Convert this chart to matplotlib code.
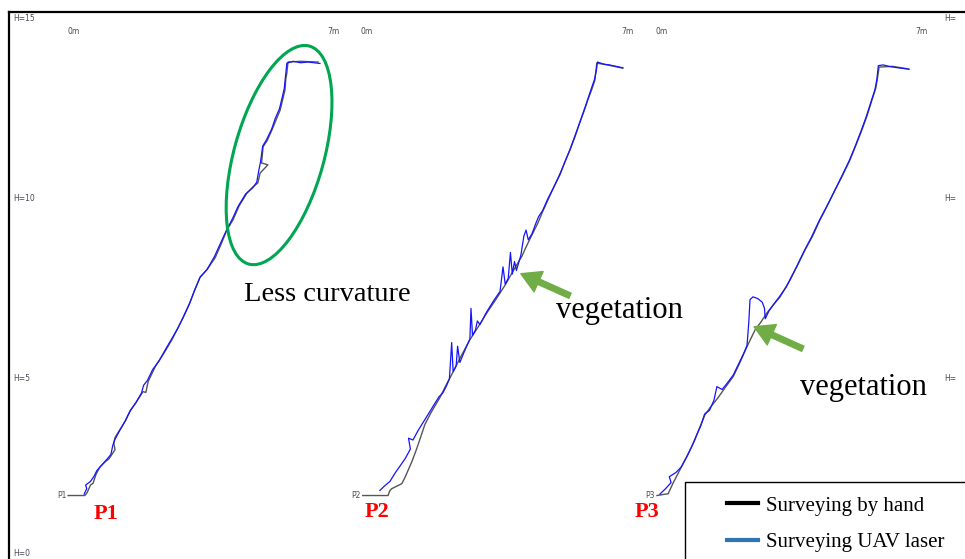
import matplotlib.pyplot as plt
from matplotlib.patches import Ellipse, Rectangle
from matplotlib.lines import Line2D

# horizontal offset of each profile panel (m), plus labels
panel_offsets = [0.0, 7.90, 15.81]
panel_names = ["P1", "P2", "P3"]
height_ticks = [15, 10, 5, 0]
right_ticks = [15, 10, 5]
dist_ticks = [0, 7]

# profile P1: (distance m, height m)
p1_hand = [(-0.05, 1.76), (0.40, 1.76), (0.46, 1.84), (0.55, 2.05), (0.62, 2.10), (0.70, 2.35),
           (0.81, 2.56), (0.95, 2.70), (1.05, 2.78), (1.21, 3.03), (1.18, 3.20), (1.21, 3.37),
           (1.35, 3.60), (1.50, 3.85), (1.61, 4.09), (1.75, 4.30), (1.96, 4.64), (2.04, 4.62),
           (2.10, 4.92), (2.30, 5.35), (2.55, 5.75), (2.75, 6.10), (3.04, 6.69), (3.20, 7.05),
           (3.35, 7.45), (3.49, 7.80), (3.70, 8.05), (3.90, 8.35), (4.05, 8.70), (4.22, 9.13),
           (4.38, 9.40), (4.55, 9.80), (4.76, 10.15), (4.90, 10.30), (5.05, 10.43), (5.11, 10.70),
           (5.32, 10.93), (5.15, 10.98), (5.19, 11.43), (5.30, 11.60), (5.43, 11.90), (5.55, 12.20),
           (5.65, 12.45), (5.72, 12.75), (5.78, 13.01), (5.80, 13.30), (5.83, 13.48), (5.86, 13.78),
           (6.20, 13.80), (6.67, 13.78)]
p1_uav = [(0.38, 1.80), (0.45, 1.95), (0.42, 2.05), (0.55, 2.15), (0.65, 2.30), (0.72, 2.45),
          (0.85, 2.60), (0.98, 2.75), (1.10, 2.90), (1.15, 3.15), (1.20, 3.30), (1.33, 3.55),
          (1.48, 3.82), (1.62, 4.12), (1.78, 4.35), (1.92, 4.60), (1.98, 4.82), (2.08, 4.95),
          (2.22, 5.25), (2.40, 5.50), (2.56, 5.80), (2.72, 6.08), (2.90, 6.40), (3.05, 6.72),
          (3.22, 7.10), (3.36, 7.48), (3.50, 7.82), (3.68, 8.02), (3.88, 8.38), (4.03, 8.72),
          (4.20, 9.10), (4.36, 9.42), (4.52, 9.78), (4.72, 10.12), (4.92, 10.30), (5.02, 10.45),
          (5.08, 10.80), (5.12, 11.00), (5.18, 11.45), (5.28, 11.62), (5.42, 11.92), (5.52, 12.22),
          (5.63, 12.48), (5.70, 12.78), (5.76, 13.05), (5.79, 13.35), (5.83, 13.75), (6.00, 13.80),
          (6.20, 13.76), (6.40, 13.78), (6.72, 13.74)]

# profile P2
p2_hand = [(-0.03, 1.76), (0.65, 1.76), (0.70, 1.90), (0.75, 1.95), (1.02, 2.09), (1.10, 2.25),
           (1.29, 2.70), (1.40, 3.00), (1.50, 3.30), (1.64, 3.73), (1.80, 4.05), (2.04, 4.47),
           (2.20, 4.80), (2.39, 5.17), (2.60, 5.60), (2.85, 6.08), (3.05, 6.40), (3.31, 6.83),
           (3.55, 7.20), (3.80, 7.60), (4.02, 8.00), (4.25, 8.40), (4.36, 8.65), (4.50, 8.95),
           (4.68, 9.32), (4.80, 9.62), (4.95, 9.96), (5.10, 10.30), (5.27, 10.65), (5.40, 11.00),
           (5.54, 11.34), (5.68, 11.72), (5.81, 12.12), (5.92, 12.42), (6.02, 12.73), (6.12, 13.00),
           (6.21, 13.28), (6.24, 13.55), (6.26, 13.75), (6.55, 13.70), (6.96, 13.61)]
p2_uav = [(0.43, 1.90), (0.55, 2.02), (0.70, 2.15), (0.85, 2.40), (1.00, 2.62), (1.12, 2.80),
          (1.25, 3.05), (1.20, 3.35), (1.32, 3.30), (1.45, 3.55), (1.60, 3.80), (1.75, 4.05),
          (1.90, 4.30), (2.02, 4.50), (2.12, 4.60), (2.22, 4.80), (2.30, 5.00), (2.36, 6.00),
          (2.40, 5.20), (2.48, 5.35), (2.52, 5.90), (2.58, 5.45), (2.70, 5.75), (2.85, 6.10),
          (2.88, 6.95), (2.92, 6.20), (3.00, 6.35), (3.05, 6.60), (3.12, 6.50), (3.30, 6.85),
          (3.50, 7.18), (3.66, 7.42), (3.74, 8.10), (3.80, 7.62), (3.88, 7.78), (3.94, 8.50),
          (3.99, 7.90), (4.05, 8.25), (4.10, 8.00), (4.22, 8.42), (4.30, 8.95), (4.36, 9.12),
          (4.42, 8.85), (4.52, 9.02), (4.62, 9.30), (4.70, 9.50), (4.80, 9.65), (4.95, 10.00),
          (5.10, 10.30), (5.28, 10.70), (5.40, 11.00), (5.55, 11.38), (5.68, 11.75), (5.82, 12.15),
          (5.92, 12.45), (6.02, 12.75), (6.10, 13.00), (6.20, 13.30), (6.25, 13.55), (6.28, 13.78),
          (6.45, 13.72), (6.60, 13.70), (6.96, 13.62)]

# profile P3
p3_hand = [(-0.03, 1.76), (0.27, 1.81), (0.40, 2.10), (0.59, 2.48), (0.80, 2.90), (0.99, 3.31),
           (1.10, 3.60), (1.26, 4.00), (1.40, 4.20), (1.61, 4.47), (1.80, 4.75), (2.02, 5.06),
           (2.20, 5.45), (2.39, 5.89), (2.61, 6.36), (2.75, 6.55), (2.93, 6.83), (3.10, 7.05),
           (3.28, 7.27), (3.55, 7.74), (3.75, 8.15), (3.95, 8.57), (4.15, 8.95), (4.35, 9.40),
           (4.55, 9.80), (4.76, 10.24), (4.95, 10.62), (5.16, 11.07), (5.32, 11.48), (5.48, 11.90),
           (5.62, 12.30), (5.75, 12.73), (5.85, 13.05), (5.89, 13.28), (5.94, 13.64), (6.30, 13.66),
           (6.72, 13.59)]
p3_uav = [(0.05, 1.80), (0.20, 1.95), (0.35, 2.12), (0.30, 2.28), (0.48, 2.40), (0.62, 2.55),
          (0.78, 2.85), (0.92, 3.15), (1.02, 3.40), (1.15, 3.70), (1.25, 4.02), (1.38, 4.12),
          (1.50, 4.40), (1.58, 4.78), (1.72, 4.70), (1.86, 4.88), (2.02, 5.10), (2.16, 5.40),
          (2.30, 5.70), (2.39, 5.92), (2.44, 6.60), (2.47, 7.19), (2.55, 7.27), (2.68, 7.22),
          (2.80, 7.12), (2.86, 6.95), (2.88, 6.66), (2.98, 6.88), (3.12, 7.08), (3.28, 7.30),
          (3.45, 7.55), (3.57, 7.80), (3.72, 8.10), (3.93, 8.55), (4.12, 8.92), (4.33, 9.38),
          (4.52, 9.75), (4.74, 10.20), (4.92, 10.58), (5.14, 11.05), (5.30, 11.45), (5.46, 11.88),
          (5.60, 12.28), (5.73, 12.70), (5.83, 13.02), (5.88, 13.30), (5.92, 13.68), (6.05, 13.70),
          (6.25, 13.65), (6.45, 13.62), (6.75, 13.58)]

hand_profiles = [p1_hand, p2_hand, p3_hand]
uav_profiles = [p1_uav, p2_uav, p3_uav]

# annotation positions (m, in panel-local distance)
name_pos = [(0.97, 1.26), (0.35, 1.29), (-0.30, 1.29)]
veg_text = [(6.86, 6.88), (5.51, 4.75)]          # panels 2, 3
veg_arrow_tail = [(5.54, 7.30), (3.89, 5.83)]
veg_arrow_tip = [(4.22, 7.91), (2.58, 6.44)]
veg_panels = [1, 2]

fig = plt.figure(figsize=(9.65, 5.59), dpi=100)
ax = fig.add_axes([0, 0, 1, 1])
ax.set_xlim(-1.882, 24.06)
ax.set_ylim(0.0, 15.5)
ax.set_axis_off()

serif = 'Liberation Serif'
small = dict(fontsize=5.5, color='#4a4a5a')

for i, off in enumerate(panel_offsets):
    hx = [p[0] + off for p in hand_profiles[i]]
    hy = [p[1] for p in hand_profiles[i]]
    ux = [p[0] + off for p in uav_profiles[i]]
    uy = [p[1] for p in uav_profiles[i]]
    ax.plot(hx, hy, color='#555555', lw=1.0, zorder=2)
    ax.plot(ux, uy, color='#1414ff', lw=0.9, zorder=3)
    for t in dist_ticks:
        ax.text(off + t - 0.08, 14.64, f"{t}m", ha='left', va='center', **small)
    ax.text(off - 0.1, 1.76, panel_names[i], ha='right', va='center', **small)
    ax.text(off + name_pos[i][0], name_pos[i][1], panel_names[i], ha='center', va='center',
            color='red', fontsize=16, fontweight='bold', family=serif)

# height labels on the left; the next panel's labels show only "H=" at the right edge
for h in height_ticks:
    ax.text(-1.53, max(h, 0.15), f"H={h}", ha='left', va='center', **small)
for h in right_ticks:
    ax.text(23.50, h, "H=", ha='left', va='center', **small)

# "less curvature" ellipse on P1
ax.add_patch(Ellipse((5.62, 11.20), 2.42, 6.26, angle=-15, fill=False,
                     edgecolor='#00a651', lw=2.2, zorder=4))
ax.text(6.91, 7.33, "Less curvature", ha='center', va='center', fontsize=20.5, family=serif)

for k, pi in enumerate(veg_panels):
    off = panel_offsets[pi]
    ax.text(off + veg_text[k][0], veg_text[k][1], "vegetation", ha='center', va='center',
            fontsize=22, family=serif)
    ax.annotate('', xy=(off + veg_arrow_tip[k][0], veg_arrow_tip[k][1]),
                xytext=(off + veg_arrow_tail[k][0], veg_arrow_tail[k][1]),
                arrowprops=dict(facecolor='#70ad47', edgecolor='#70ad47', width=4,
                                headwidth=16, headlength=14, shrink=0), zorder=5)

# outer frame (left and top edges only)
frame = fig.add_axes([9 / 965, -0.05, 1.1, 1 - 12 / 559 + 0.05])
frame.set_facecolor('none')
frame.set_xticks([])
frame.set_yticks([])
for s in ['right', 'bottom']:
    frame.spines[s].set_visible(False)
for s in ['left', 'top']:
    frame.spines[s].set_linewidth(1.6)

# legend box running off the figure edge
fig.patches.append(Rectangle((685 / 965, -0.05), 0.5, (559 - 482) / 559 + 0.05,
                             transform=fig.transFigure, facecolor='white',
                             edgecolor='black', lw=1.0, zorder=3))
handles = [Line2D([], [], color='black', lw=3), Line2D([], [], color='#2e75b6', lw=3)]
leg = fig.legend(handles, ["Surveying by hand", "Surveying UAV laser"], loc='upper left',
                 bbox_to_anchor=(727 / 965, 1 - 496 / 559), frameon=False,
                 prop={'family': serif, 'size': 15}, handlelength=1.5, handletextpad=0.35,
                 labelspacing=0.82, borderpad=0, borderaxespad=0)
leg.set_zorder(10)

fig.savefig('out.png', dpi=100)
